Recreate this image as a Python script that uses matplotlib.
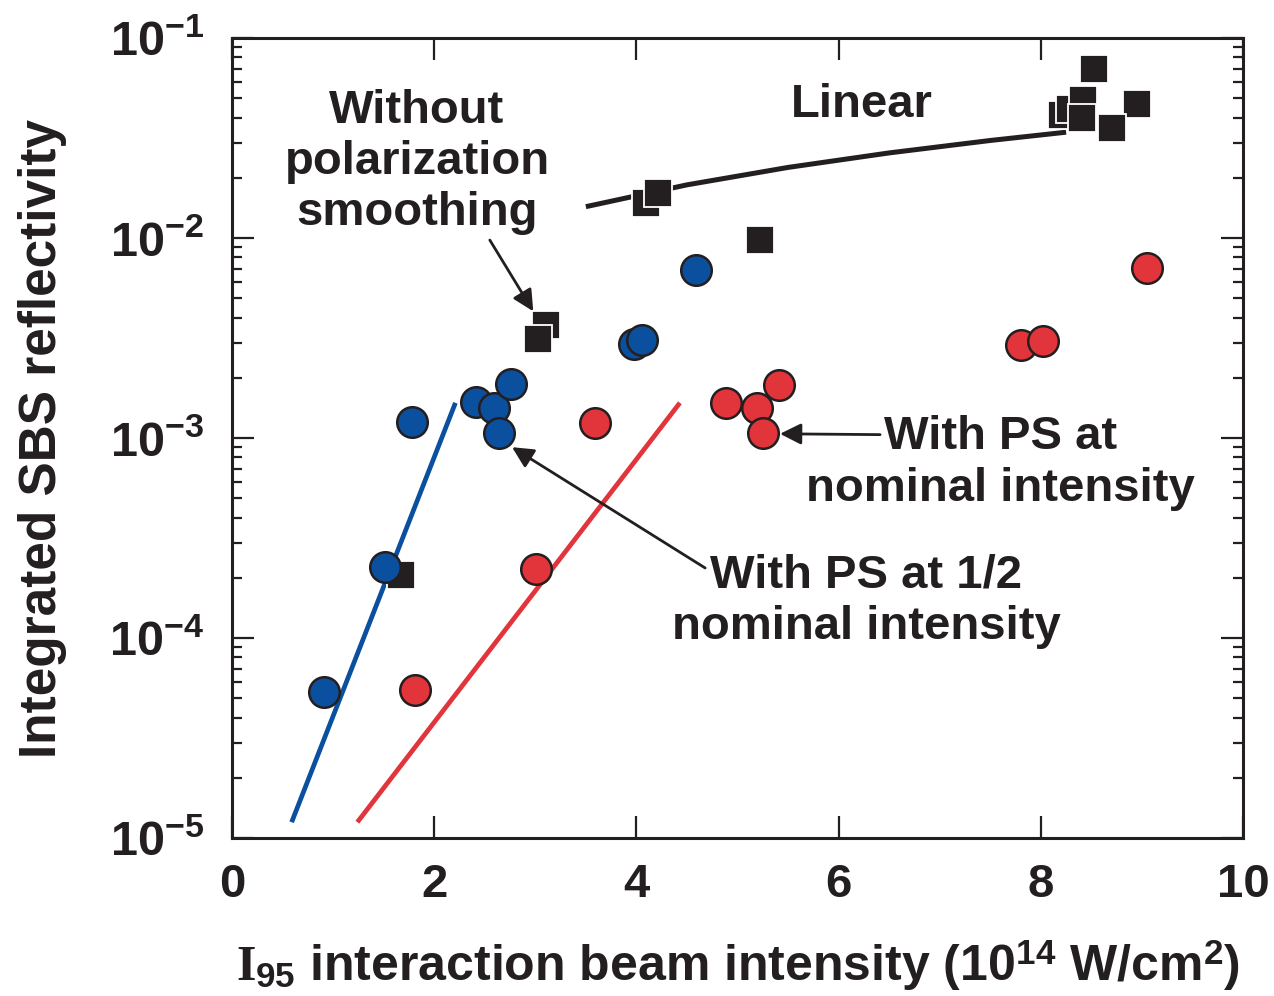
import matplotlib
matplotlib.use("Agg")
import matplotlib.pyplot as plt
from matplotlib.ticker import LogLocator, FixedLocator, FuncFormatter, NullLocator

plt.rcParams['font.family'] = ['Liberation Sans', 'DejaVu Sans']
plt.rcParams['font.weight'] = 'bold'
plt.rcParams['mathtext.fontset'] = 'custom'
plt.rcParams['mathtext.rm'] = 'Liberation Sans:bold'
plt.rcParams['mathtext.bf'] = 'Liberation Sans:bold'
plt.rcParams['mathtext.sf'] = 'Liberation Sans:bold'
plt.rcParams['mathtext.it'] = 'Liberation Serif:bold'

# ---- data ----
blue_x = [0.91, 1.51, 1.78, 2.41, 2.59, 2.76, 2.64, 3.98, 4.06, 4.59]
blue_y = [5.4e-5, 2.26e-4, 1.20e-3, 1.51e-3, 1.41e-3, 1.86e-3, 1.06e-3, 2.95e-3, 3.09e-3, 6.9e-3]

red_x = [1.81, 3.01, 3.59, 4.89, 5.19, 5.41, 5.25, 7.80, 8.02, 9.05]
red_y = [5.5e-5, 2.21e-4, 1.19e-3, 1.50e-3, 1.41e-3, 1.84e-3, 1.06e-3, 2.92e-3, 3.05e-3, 7.1e-3]

sq_x = [1.67, 3.11, 3.03, 4.09, 4.21, 5.22, 8.53, 8.21, 8.29, 8.42, 8.41, 8.95, 8.70]
sq_y = [2.07e-4, 3.67e-3, 3.13e-3, 1.50e-2, 1.68e-2, 9.8e-3, 7.0e-2, 4.1e-2, 4.4e-2, 4.9e-2, 3.98e-2, 4.68e-2, 3.55e-2]

linear_x = [3.5, 4.5, 5.5, 6.5, 7.5, 8.25]
linear_slope = 4.1e-3
linear_y = [linear_slope * v for v in linear_x]

blue_fit_x = [0.59, 2.21]
blue_fit_y = [1.2e-5, 1.5e-3]
red_fit_x = [1.24, 4.43]
red_fit_y = [1.2e-5, 1.5e-3]

x_ticks = [0, 2, 4, 6, 8, 10]
y_ticks = [1e-5, 1e-4, 1e-3, 1e-2, 1e-1]

BLACK = '#231f20'
BLUE = '#0b4f9f'
RED = '#e2343b'

fig = plt.figure(figsize=(12.74, 9.96), dpi=100)
ax = fig.add_axes([0.1821, 0.1586, 0.7936, 0.8032])
ax.set_yscale('log')
ax.set_xlim(0, 10)
ax.set_ylim(1e-5, 1e-1)

ax.plot(linear_x, linear_y, color=BLACK, lw=3.6, zorder=2, solid_capstyle='butt')
ax.plot(blue_fit_x, blue_fit_y, color=BLUE, lw=3.4, zorder=2, solid_capstyle='butt')
ax.plot(red_fit_x, red_fit_y, color=RED, lw=3.4, zorder=2, solid_capstyle='butt')

ax.plot(sq_x, sq_y, ls='none', marker='s', ms=19.5, mfc=BLACK, mec='white', mew=1.3, zorder=3)
ax.plot(blue_x, blue_y, ls='none', marker='o', ms=22, mfc=BLUE, mec=BLACK, mew=1.8, zorder=4)
ax.plot(red_x, red_y, ls='none', marker='o', ms=22, mfc=RED, mec=BLACK, mew=1.8, zorder=4)

# ticks
ax.xaxis.set_major_locator(FixedLocator(x_ticks))
ax.xaxis.set_minor_locator(NullLocator())
ax.yaxis.set_major_locator(FixedLocator(y_ticks))
ax.yaxis.set_minor_locator(LogLocator(base=10, subs=[2, 3, 4, 5, 6, 7, 8, 9], numticks=20))
ax.xaxis.set_major_formatter(FuncFormatter(lambda v, p: f"{int(round(v))}"))

def yfmt(v, p):
    import math
    e = int(round(math.log10(v)))
    return r"$\mathrm{10^{%d}}$" % e
ax.yaxis.set_major_formatter(FuncFormatter(yfmt))

ax.tick_params(which='both', direction='in', top=True, right=True, color=BLACK)
ax.tick_params(which='major', length=16, width=1.6, labelsize=34, labelcolor=BLACK)
ax.tick_params(which='minor', length=7, width=1.6)
ax.tick_params(axis='x', which='major', pad=18)
ax.tick_params(axis='y', which='major', labelsize=35, pad=20)
for t in ax.get_xticklabels() + ax.get_yticklabels():
    t.set_fontweight('bold')
for s in ax.spines.values():
    s.set_linewidth(2.2)
    s.set_color(BLACK)

ax.set_ylabel("Integrated SBS reflectivity", fontsize=37, fontweight='bold', color=BLACK, labelpad=30)
ax.set_xlabel(r"$\mathit{I}_{\mathrm{95}}$ interaction beam intensity (10$^{\mathrm{14}}$ W/cm$^{\mathrm{2}}$)",
              fontsize=36, fontweight='bold', color=BLACK, labelpad=22)

txt = dict(fontsize=34, fontweight='bold', color=BLACK, ha='center', va='center', linespacing=1.22)
ax.text(1.83, 2.4e-2, "Without\npolarization\nsmoothing", **txt)
ax.text(6.23, 4.62e-2, "Linear", **txt)
ax.text(7.60, 7.5e-4, "With PS at\nnominal intensity", **txt)
ax.text(6.27, 1.52e-4, "With PS at 1/2\nnominal intensity", **txt)

arr = dict(arrowstyle='-|>', color=BLACK, lw=2.0, mutation_scale=32, shrinkA=0, shrinkB=0)
ax.annotate("", xy=(2.98, 4.3e-3), xytext=(2.55, 9.77e-3), arrowprops=arr, zorder=5)
ax.annotate("", xy=(2.77, 9.0e-4), xytext=(4.68, 2.24e-4), arrowprops=arr, zorder=5)
ax.annotate("", xy=(5.42, 1.05e-3), xytext=(6.41, 1.04e-3), arrowprops=arr, zorder=5)

fig.savefig("out.png", dpi=100)
